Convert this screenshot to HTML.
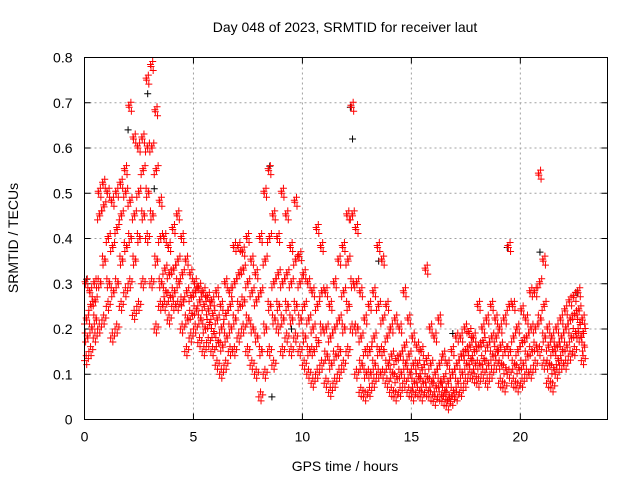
<!DOCTYPE html>
<html><head><meta charset="utf-8"><style>
body{margin:0;background:#fff}
svg{display:block;font-family:"Liberation Sans",sans-serif}
</style></head><body>
<svg id="chart" width="640" height="480">
<text x="345" y="32" font-size="14" text-anchor="middle">Day 048 of 2023, SRMTID for receiver laut</text>
<text x="345" y="471" font-size="14" text-anchor="middle">GPS time / hours</text>
<text transform="translate(18,238) rotate(-90)" font-size="14" text-anchor="middle">SRMTID / TECUs</text>
<g id="grid"></g>
<g id="ticks"></g>
<g id="marks"></g>
<rect x="84.5" y="57.5" width="523" height="362" fill="none" stroke="#000"/>
</svg>
<script>
const times=[0.0,0.2,0.4,0.6,0.8,1.0,1.2,1.4,1.6,1.8,2.0,2.2,2.4,2.6,2.8,3.0,3.2,3.4,3.6,3.8,4.0,4.2,4.4,4.6,4.8,5.0,5.2,5.4,5.6,5.8,6.0,6.2,6.4,6.6,6.8,7.0,7.2,7.4,7.6,7.8,8.0,8.2,8.4,8.6,8.8,9.0,9.2,9.4,9.6,9.8,10.0,10.2,10.4,10.6,10.8,11.0,11.2,11.4,11.6,11.8,12.0,12.2,12.4,12.6,12.8,13.0,13.2,13.4,13.6,13.8,14.0,14.2,14.4,14.6,14.8,15.0,15.2,15.4,15.6,15.8,16.0,16.2,16.4,16.6,16.8,17.0,17.2,17.4,17.6,17.8,18.0,18.2,18.4,18.6,18.8,19.0,19.2,19.4,19.6,19.8,20.0,20.2,20.4,20.6,20.8,21.0,21.2,21.4,21.6,21.8,22.0,22.2,22.4,22.6,22.8];
const lowVals=[.13,.15,.18,.20,.22,.25,.18,.20,.25,.28,.30,.23,.25,.30,.40,.30,.20,.25,.25,.22,.25,.25,.20,.15,.18,.20,.17,.15,.17,.15,.12,.10,.12,.15,.15,.18,.20,.15,.12,.10,.05,.10,.15,.12,.20,.15,.18,.15,.18,.15,.12,.10,.08,.10,.12,.08,.06,.08,.10,.12,.15,.20,.10,.06,.05,.06,.08,.10,.10,.08,.06,.05,.06,.08,.06,.05,.06,.05,.06,.05,.04,.05,.04,.03,.04,.05,.06,.08,.10,.09,.08,.10,.08,.10,.12,.08,.07,.10,.08,.07,.08,.10,.10,.12,.15,.12,.08,.07,.10,.12,.12,.14,.15,.18,.13];
const midLowVals=[.18,.20,.22,.30,.35,.30,.28,.30,.35,.38,.40,.35,.40,.45,.50,.45,.35,.30,.28,.27,.28,.30,.26,.22,.23,.24,.22,.20,.21,.19,.17,.16,.18,.20,.22,.25,.26,.22,.20,.18,.15,.20,.25,.22,.25,.22,.25,.22,.25,.22,.18,.15,.15,.17,.20,.14,.12,.14,.15,.20,.25,.30,.20,.12,.10,.10,.12,.15,.15,.12,.10,.09,.10,.12,.10,.08,.09,.08,.09,.08,.07,.08,.06,.05,.06,.08,.10,.12,.13,.12,.12,.13,.12,.14,.15,.12,.11,.15,.12,.11,.12,.14,.15,.16,.22,.18,.12,.11,.13,.15,.16,.18,.19,.21,.16];
const midHighVals=[.22,.25,.26,.45,.47,.40,.38,.42,.45,.50,.48,.45,.50,.55,.60,.60,.55,.40,.33,.32,.33,.35,.32,.28,.27,.28,.26,.25,.24,.23,.22,.20,.23,.25,.30,.32,.33,.30,.28,.26,.28,.35,.40,.30,.32,.30,.32,.30,.35,.30,.25,.22,.20,.25,.28,.20,.18,.20,.22,.28,.35,.45,.30,.18,.15,.15,.18,.25,.22,.18,.14,.13,.14,.16,.14,.12,.12,.11,.13,.12,.10,.12,.09,.08,.10,.12,.14,.15,.16,.15,.16,.17,.16,.18,.18,.16,.15,.25,.18,.15,.17,.18,.20,.20,.30,.25,.16,.15,.16,.18,.20,.22,.23,.24,.19];
const highVals=[.30,.28,.30,.50,.52,.50,.48,.50,.52,.55,.69,.62,.60,.62,.75,.78,.68,.48,.40,.38,.42,.45,.40,.35,.32,.30,.29,.28,.27,.26,.28,.25,.30,.28,.38,.38,.37,.40,.35,.32,.40,.50,.55,.45,.40,.50,.45,.38,.48,.36,.32,.30,.28,.42,.38,.28,.25,.30,.35,.38,.45,.69,.42,.28,.22,.25,.28,.38,.35,.25,.20,.22,.20,.28,.22,.18,.16,.15,.33,.20,.18,.22,.14,.12,.15,.18,.18,.20,.19,.18,.25,.20,.22,.25,.22,.20,.22,.38,.25,.20,.24,.22,.28,.28,.54,.35,.20,.18,.20,.22,.24,.26,.27,.28,.22];
const blackTimes=[0.1,2.0,2.9,3.2,8.5,8.6,9.5,12.2,12.3,13.5,16.9,19.4,20.9,22.6];
const blackVals=[.31,.64,.72,.51,.56,.05,.20,.69,.62,.35,.19,.38,.37,.28];
const xTicks=[0,5,10,15,20];
const yTicks=[0,0.1,0.2,0.3,0.4,0.5,0.6,0.7,0.8];

const NS="http://www.w3.org/2000/svg";
const L=84.5,R=607.5,T=57.5,B=419.5;
const xs=v=>L+v/24*(R-L);
const ys=v=>B-v/0.8*(B-T);
const grid=document.getElementById('grid'),ticks=document.getElementById('ticks'),marks=document.getElementById('marks');
function mk(tag,a,p){const e=document.createElementNS(NS,tag);for(const k in a)e.setAttribute(k,a[k]);p.appendChild(e);return e;}
xTicks.forEach(v=>{
  const x=xs(v);
  if(v>0){const g=mk('line',{x1:x,x2:x,y1:T,y2:B,stroke:'#a0a0a0','stroke-dasharray':'2,3'},grid);
  
  }
  mk('line',{x1:x,x2:x,y1:B,y2:B-6,stroke:'#000'},ticks);
  mk('line',{x1:x,x2:x,y1:T,y2:T+6,stroke:'#000'},ticks);
  const t=mk('text',{x:x,y:B+22,'font-size':14,'text-anchor':'middle'},ticks);t.textContent=v;
  
  
});
yTicks.forEach(v=>{
  const y=ys(v);
  if(v>0&&v<0.8){const g=mk('line',{x1:L,x2:R,y1:y,y2:y,stroke:'#a0a0a0','stroke-dasharray':'2,3'},grid);
  
  }
  mk('line',{x1:L,x2:L+6,y1:y,y2:y,stroke:'#000'},ticks);
  mk('line',{x1:R,x2:R-6,y1:y,y2:y,stroke:'#000'},ticks);
  const t=mk('text',{x:L-12,y:y+5,'font-size':14,'text-anchor':'end'},ticks);t.textContent=v===0?'0':v.toFixed(1);
  
  
});
function plus(x,y,c){
  const p=mk('path',{d:`M${x-3.5},${y}H${x+3.5}M${x},${y-3.5}V${y+3.5}`,stroke:c,'stroke-width':1,fill:'none'},marks);
  
  
}
blackTimes.forEach((t,i)=>plus(xs(t),ys(blackVals[i]),'#000'));
// marker cluster style: each sample drawn as a small cluster of plus marks
const clusterDx=[0,1.1,2.2,3.3];
const clusterDy=[0,-5,4,-2];
[lowVals,midLowVals,midHighVals,highVals].forEach((arr,k)=>{
  times.forEach((t,i)=>{
    const x0=xs(t),y0=ys(arr[i]);
    clusterDx.forEach((dx,j)=>plus(x0+dx+((k+j)%2)*0.6,y0+clusterDy[(j+k)%4],'#f00'));
  });
});
</script>
</body></html>
